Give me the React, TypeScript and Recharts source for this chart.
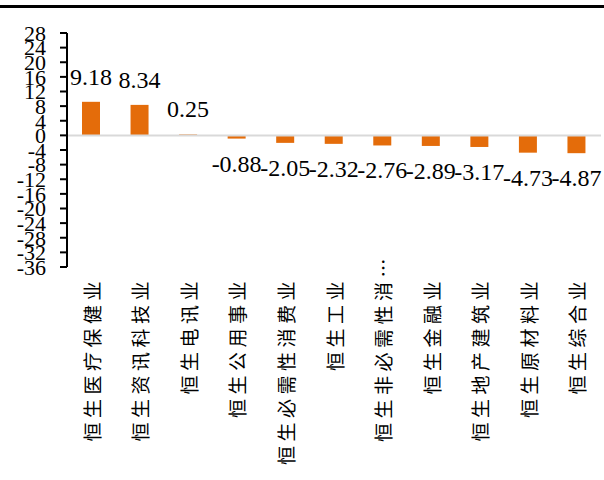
import { BarChart, Bar, XAxis, YAxis, ReferenceLine, LabelList } from "recharts"

// Hang Seng sector index returns (%)
const sectors = [
  "恒生医疗保健业",
  "恒生资讯科技业",
  "恒生电讯业",
  "恒生公用事业",
  "恒生必需性消费业",
  "恒生工业",
  "恒生非必需性消费业",
  "恒生金融业",
  "恒生地产建筑业",
  "恒生原材料业",
  "恒生综合业",
]
const returns = [9.18, 8.34, 0.25, -0.88, -2.05, -2.32, -2.76, -2.89, -3.17, -4.73, -4.87]
const yTicks = [28, 24, 20, 16, 12, 8, 4, 0, -4, -8, -12, -16, -20, -24, -28, -32, -36]

const data = sectors.map((name, i) => ({ name, value: returns[i] }))

const SERIF = "'Liberation Serif', 'Times New Roman', serif"
const CJK = "'Noto Sans CJK SC', sans-serif"

// vertical category label, long names are cut with an ellipsis
function SectorTick(props: any) {
  const { x, y, payload } = props
  const raw: string = payload.value
  const label = raw.length > 8 ? raw.slice(0, 7) + "⋯" : raw
  const top = raw.length > 8 ? y - 23 : y
  return (
    <text
      x={x}
      y={top}
      transform={`rotate(-90, ${x}, ${top})`}
      textAnchor="end"
      dominantBaseline="central"
      fontFamily={CJK}
      fontSize={19}
      fill="#000"
      style={{ letterSpacing: "4.5px" }}
    >
      {label}
    </text>
  )
}

// value label above positive bars, below negative ones
function ValueLabel(props: any) {
  const { x, y, width, height, value } = props
  const top = Math.min(y, y + height)
  const bottom = Math.max(y, y + height)
  const cy = value >= 0 ? top - 25 : bottom + 25
  return (
    <text
      x={x + width / 2}
      y={cy}
      textAnchor="middle"
      dominantBaseline="central"
      fontFamily={SERIF}
      fontSize={24}
      fill="#000"
    >
      {value}
    </text>
  )
}

export default function App() {
  return (
    <div style={{ position: "absolute", left: 0, top: 0, width: 604, height: 480, background: "#fff" }}>
      <div style={{ position: "absolute", left: 0, top: 5, width: 604, height: 3, background: "#000" }} />
      <BarChart
        width={604}
        height={480}
        data={data}
        margin={{ top: 33, right: 3, bottom: 0, left: 0 }}
        barSize={18}
      >
        <XAxis
          dataKey="name"
          height={213}
          interval={0}
          axisLine={false}
          tickLine={false}
          tickSize={0}
          tickMargin={10}
          tick={<SectorTick />}
        />
        <YAxis
          type="number"
          width={67}
          domain={[-36, 28]}
          ticks={yTicks}
          interval={0}
          axisLine={{ stroke: "#000", strokeWidth: 2 }}
          tickLine={{ stroke: "#000", strokeWidth: 2 }}
          tickSize={7}
          tickMargin={14}
          tick={{ fill: "#000", fontFamily: SERIF, fontSize: 22 }}
        />
        <ReferenceLine y={0} stroke="#D9D9D9" strokeWidth={2} />
        <Bar dataKey="value" fill="#E46C0A" isAnimationActive={false}>
          <LabelList dataKey="value" content={<ValueLabel />} />
        </Bar>
      </BarChart>
    </div>
  )
}
